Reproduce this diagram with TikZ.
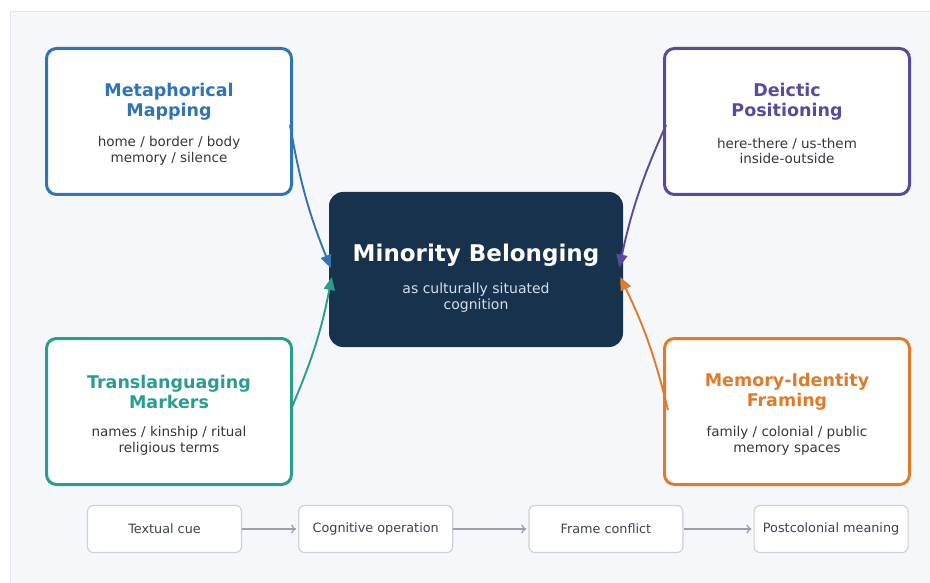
\documentclass[tikz,border=0pt]{standalone}
\usepackage{xcolor}
\usepackage{fontspec}
\setmainfont{DejaVu Sans}
\usepackage{tikz}
\usetikzlibrary{positioning,calc,arrows.meta}

\definecolor{mapblue}{HTML}{2F74B5}
\definecolor{deixis}{HTML}{5A4A9F}
\definecolor{transteal}{HTML}{2A9D8F}
\definecolor{memorange}{HTML}{E07B2A}
\definecolor{corenavy}{HTML}{17324D}
\definecolor{subgrey}{HTML}{D6DEE7}
\definecolor{bodytext}{HTML}{33373D}
\definecolor{panelbg}{HTML}{F5F7FA}
\definecolor{panelline}{HTML}{E1E4E8}
\definecolor{flowline}{HTML}{CDD2D9}
\definecolor{flowarrow}{HTML}{9AA1AB}
\definecolor{flowtext}{HTML}{3B4250}

\begin{document}
\begin{tikzpicture}[
    x=1pt, y=-1pt,
    card/.style={rectangle, rounded corners=10pt, draw, line width=3pt, fill=white, minimum width=245pt, minimum height=146pt},
    cardtitle/.style={align=center, font=\bfseries\fontsize{17.5}{20}\selectfont},
    cardbody/.style={align=center, text=bodytext, font=\fontsize{13.5}{15.5}\selectfont},
    corebox/.style={rectangle, rounded corners=14pt, fill=corenavy, minimum width=294pt, minimum height=155pt},
    flowbox/.style={rectangle, rounded corners=6pt, draw=flowline, line width=1.2pt, fill=white, minimum width=154pt, minimum height=47pt, text=flowtext, font=\fontsize{12.8}{15}\selectfont},
    link/.style={line width=1.9pt, -{Triangle[length=13pt,width=11pt]}},
    flowlink/.style={draw=flowarrow, line width=1.3pt, -{To[length=5pt,width=9pt]}, shorten >=2pt}
]
    \useasboundingbox (0,0) rectangle (930,583);
    \fill[white] (0,0) rectangle (930,583);
    \filldraw[fill=panelbg, draw=panelline, line width=1pt] (10,12) rectangle (945,600);

    % central concept
    \node[corebox] (core) at (476,269.5) {};
    \node[text=white, font=\bfseries\fontsize{23}{27}\selectfont] (core-title) at ($(core)+(0,-14)$) {Minority Belonging};
    \node[align=center, text=subgrey, font=\fontsize{14}{16}\selectfont] (core-sub) at ($(core)+(0,28)$) {as culturally situated\\cognition};

    % the four lenses
    \node[card, draw=mapblue] (meta) at (169,121.5) {};
    \node[cardtitle, text=mapblue] (meta-title) at ($(meta)+(0,-20)$) {Metaphorical\\Mapping};
    \node[cardbody] (meta-body) at ($(meta)+(0,29.5)$) {home / border / body\\memory / silence};

    \node[card, draw=deixis] (deic) at (787,121.5) {};
    \node[cardtitle, text=deixis] (deic-title) at ($(deic)+(0,-20)$) {Deictic\\Positioning};
    \node[cardbody] (deic-body) at ($(deic)+(0,29.5)$) {here-there / us-them\\inside-outside};

    \node[card, draw=transteal] (trans) at (169,411.5) {};
    \node[cardtitle, text=transteal] (trans-title) at ($(trans)+(0,-20)$) {Translanguaging\\Markers};
    \node[cardbody] (trans-body) at ($(trans)+(0,29.5)$) {names / kinship / ritual\\religious terms};

    \node[card, draw=memorange] (memo) at (787,411.5) {};
    \node[cardtitle, text=memorange] (memo-title) at ($(memo)+(0,-20)$) {Memory-Identity\\Framing};
    \node[cardbody] (memo-body) at ($(memo)+(0,29.5)$) {family / colonial / public\\memory spaces};

    \draw[link, mapblue] ($(meta.east)+(-3,3.5)$) to[bend right=6] ($(core.west)+(2,-1.5)$);
    \draw[link, transteal] ($(trans.east)+(-1,-4.5)$) to[bend right=6] ($(core.west)+(3,7.5)$);
    \draw[link, deixis] ($(deic.west)+(3,3.5)$) to[bend right=6] ($(core.east)+(-4,-2)$);
    \draw[link, memorange] ($(memo.west)+(5,-1.5)$) to[bend right=6] ($(core.east)+(-3,7.5)$);

    % reading pipeline
    \node[flowbox] (cue) at (164.5,529) {Textual cue};
    \node[flowbox, right=56pt of cue] (oper) {Cognitive operation};
    \node[flowbox, right=75pt of oper] (clash) {Frame conflict};
    \node[flowbox, right=70pt of clash] (meaning) {Postcolonial meaning};

    \draw[flowlink] (cue) -- (oper);
    \draw[flowlink] (oper) -- (clash);
    \draw[flowlink] (clash) -- (meaning);
\end{tikzpicture}
\end{document}
